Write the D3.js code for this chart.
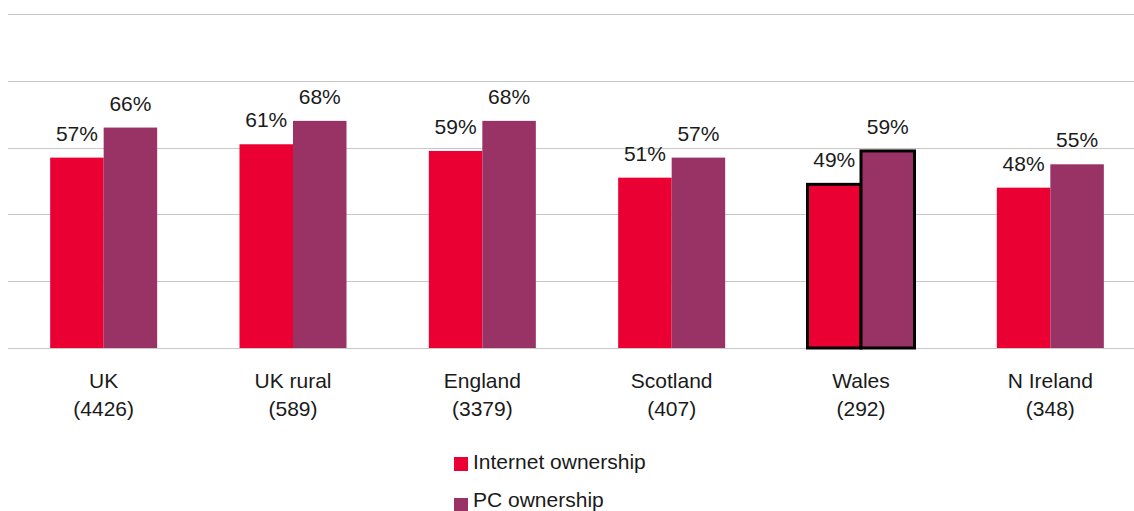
<!DOCTYPE html>
<html>
<head>
<meta charset="utf-8">
<script src="https://cdn.jsdelivr.net/npm/d3@7"></script>
<style>
  html, body { margin: 0; padding: 0; background: #fff; }
  svg { display: block; font-family: "Liberation Sans", Arial, sans-serif; }
</style>
</head>
<body>
<svg id="chart" width="1134" height="511"></svg>
<script>
// Regions and their sample sizes
const regions = ["UK", "UK rural", "England", "Scotland", "Wales", "N Ireland"];
const sampleSizes = ["(4426)", "(589)", "(3379)", "(407)", "(292)", "(348)"];
// Ownership shares, percent
const internetOwnership = [57, 61, 59, 51, 49, 48];
const pcOwnership = [66, 68, 68, 57, 59, 55];
const seriesNames = ["Internet ownership", "PC ownership"];
const yTicks = [0, 20, 40, 60, 80, 100];
const highlighted = "Wales";

const colors = ["#EA0033", "#993366"];
const textColor = "#1a1a1a";
const svg = d3.select("#chart");

const x = d3.scaleBand().domain(regions).range([9, 1145]).paddingInner(0).paddingOuter(0);
const y = d3.scaleLinear().domain([0, 100]).range([348, 14]);
const barW = 53.5;

// gridlines
svg.append("g").selectAll("line").data(yTicks).join("line")
  .attr("x1", 8).attr("x2", 1134)
  .attr("y1", d => Math.round(y(d)) + 0.5).attr("y2", d => Math.round(y(d)) + 0.5)
  .attr("stroke", "#c8c8c8").attr("stroke-width", 1);

const rows = regions.map((r, i) => ({ region: r, values: [internetOwnership[i], pcOwnership[i]] }));

const groups = svg.append("g").selectAll("g").data(rows).join("g");

groups.each(function(d) {
  const g = d3.select(this);
  const cx = x(d.region) + x.bandwidth() / 2;
  d.values.forEach((v, s) => {
    const x0 = cx - barW + s * barW;
    const isHi = d.region === highlighted;
    g.append("rect")
      .attr("x", x0).attr("width", barW)
      .attr("y", y(v)).attr("height", y(0) - y(v))
      .attr("fill", colors[s])
      .attr("stroke", isHi ? "#000" : "none")
      .attr("stroke-width", isHi ? 3 : 0);
    g.append("text")
      .attr("x", x0 + barW / 2).attr("y", y(v) - 17)
      .attr("text-anchor", "middle")
      .attr("font-size", 21).attr("fill", textColor)
      .text(v + "%");
  });
  const i = regions.indexOf(d.region);
  g.append("text").attr("x", cx).attr("y", 388).attr("text-anchor", "middle")
    .attr("font-size", 21).attr("fill", textColor).text(d.region);
  g.append("text").attr("x", cx).attr("y", 416).attr("text-anchor", "middle")
    .attr("font-size", 21).attr("fill", textColor).text(sampleSizes[i]);
});

// legend
const legend = svg.append("g").selectAll("g").data(seriesNames).join("g")
  .attr("transform", (d, i) => `translate(454, ${457 + i * 41})`);
legend.append("rect").attr("width", 14).attr("height", 14).attr("fill", (d, i) => colors[i]);
legend.append("text").attr("x", 19).attr("y", (d, i) => i === 0 ? 12 : 9).attr("font-size", 21)
  .attr("fill", textColor).text(d => d);
</script>
</body>
</html>
